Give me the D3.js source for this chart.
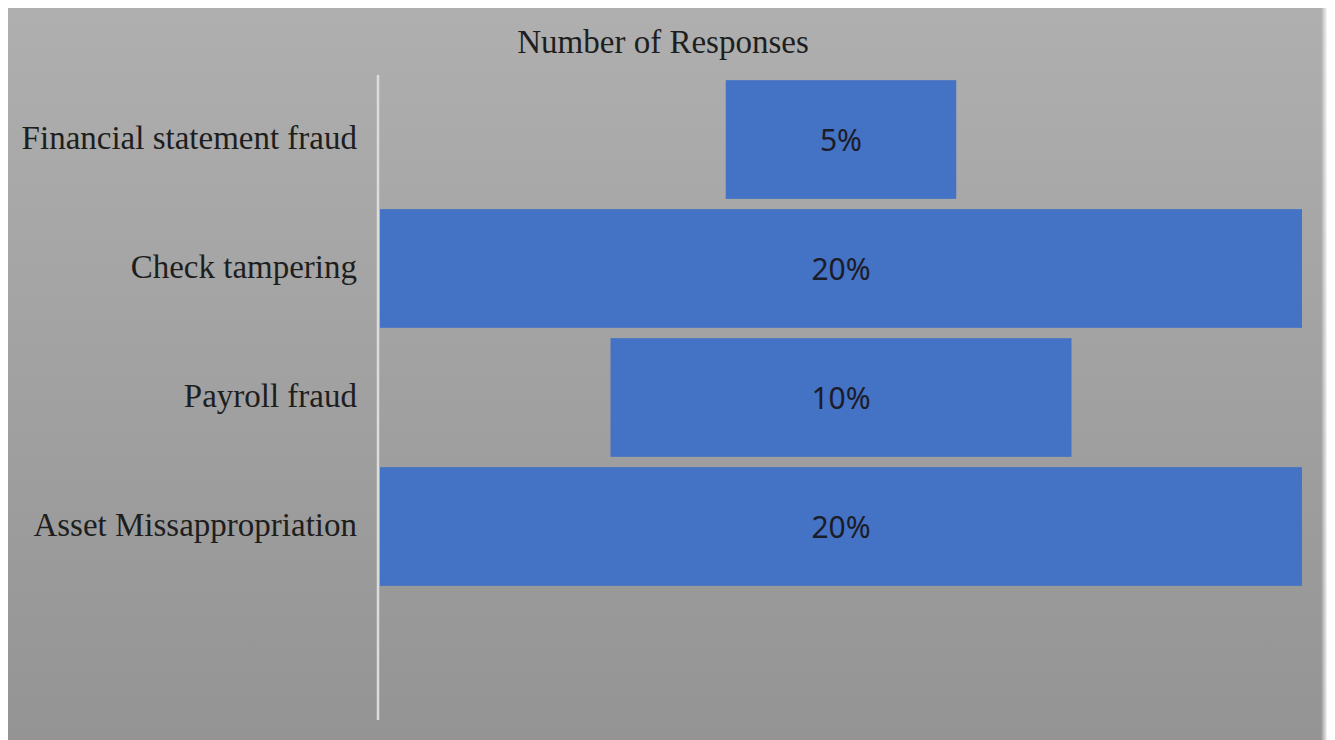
<!DOCTYPE html>
<html>
<head>
<meta charset="utf-8">
<script src="https://cdn.jsdelivr.net/npm/d3@7"></script>
<style>
  html, body { margin: 0; padding: 0; background: #ffffff; }
  svg { display: block; }
</style>
</head>
<body>
<svg id="chart" width="1335" height="740"></svg>
<script>
// Fraud categories (top to bottom) and their share of responses (%)
const categories = ["Financial statement fraud", "Check tampering", "Payroll fraud", "Asset Missappropriation"];
const values = [5, 20, 10, 20];
const valueLabels = ["5%", "20%", "10%", "20%"];
const chartTitle = "Number of Responses";

const svg = d3.select("#chart");
const defs = svg.append("defs");

const bg = defs.append("linearGradient").attr("id", "bgGrad")
  .attr("x1", 0).attr("y1", 0).attr("x2", 0).attr("y2", 1);
bg.append("stop").attr("offset", "0%").attr("stop-color", "#afafaf");
bg.append("stop").attr("offset", "100%").attr("stop-color", "#949494");

const edge = defs.append("linearGradient").attr("id", "edgeGrad")
  .attr("x1", 0).attr("y1", 0).attr("x2", 1).attr("y2", 0);
edge.append("stop").attr("offset", "0%").attr("stop-color", "#ffffff").attr("stop-opacity", 0);
edge.append("stop").attr("offset", "100%").attr("stop-color", "#ffffff").attr("stop-opacity", 0.9);

// Chart area background
const frame = { x0: 8, y0: 8, x1: 1327, y1: 740 };
svg.append("rect")
  .attr("x", frame.x0).attr("y", frame.y0)
  .attr("width", frame.x1 - frame.x0).attr("height", frame.y1 - frame.y0)
  .attr("fill", "url(#bgGrad)");
svg.append("rect")
  .attr("x", frame.x1 - 6).attr("y", frame.y0)
  .attr("width", 6).attr("height", frame.y1 - frame.y0)
  .attr("fill", "url(#edgeGrad)");

// Plot area
const plot = { left: 380, right: 1302, top: 75, bottom: 720 };
const maxVal = d3.max(values);

// Bars are centred: each spans from -v to +v
const x = d3.scaleLinear().domain([-maxVal, maxVal]).range([plot.left, plot.right]);
// One empty slot follows the last category
const y = d3.scaleBand()
  .domain([...categories, ""])
  .range([plot.top, plot.bottom])
  .paddingInner(0.08)
  .paddingOuter(0.04);

const rows = categories.map((c, i) => ({ cat: c, v: values[i], label: valueLabels[i] }));

svg.append("g").attr("class", "bars").selectAll("rect").data(rows).join("rect")
  .attr("x", d => x(-d.v))
  .attr("width", d => x(d.v) - x(-d.v))
  .attr("y", d => y(d.cat))
  .attr("height", y.bandwidth())
  .attr("fill", "#4472c4");

// Value labels
svg.append("g").selectAll("text").data(rows).join("text")
  .attr("x", x(0))
  .attr("y", d => y(d.cat) + y.bandwidth() / 2)
  .attr("text-anchor", "middle")
  .attr("dominant-baseline", "central")
  .attr("font-family", "'Noto Sans', 'Open Sans', sans-serif")
  .attr("font-size", 30)
  .attr("fill", "#1c1c28")
  .text(d => d.label);

// Category axis
const yAxis = d3.axisLeft(y).tickSize(0).tickPadding(21);
const axisG = svg.append("g")
  .attr("transform", `translate(${plot.left - 2},0)`)
  .call(yAxis);
axisG.select(".domain")
  .attr("d", `M0,${plot.top}V${plot.bottom}`)
  .attr("stroke", "#dcdcdc")
  .attr("stroke-width", 2.5);
axisG.selectAll(".tick text")
  .attr("font-family", "'Liberation Serif', 'DejaVu Serif', serif")
  .attr("font-size", 33)
  .attr("fill", "#1e1e1e")
  .attr("dy", "0.3em");

// Title
svg.append("text")
  .attr("x", 663)
  .attr("y", 42)
  .attr("text-anchor", "middle")
  .attr("dominant-baseline", "central")
  .attr("font-family", "'Liberation Serif', 'DejaVu Serif', serif")
  .attr("font-size", 33)
  .attr("fill", "#1e1e1e")
  .text(chartTitle);
</script>
</body>
</html>
